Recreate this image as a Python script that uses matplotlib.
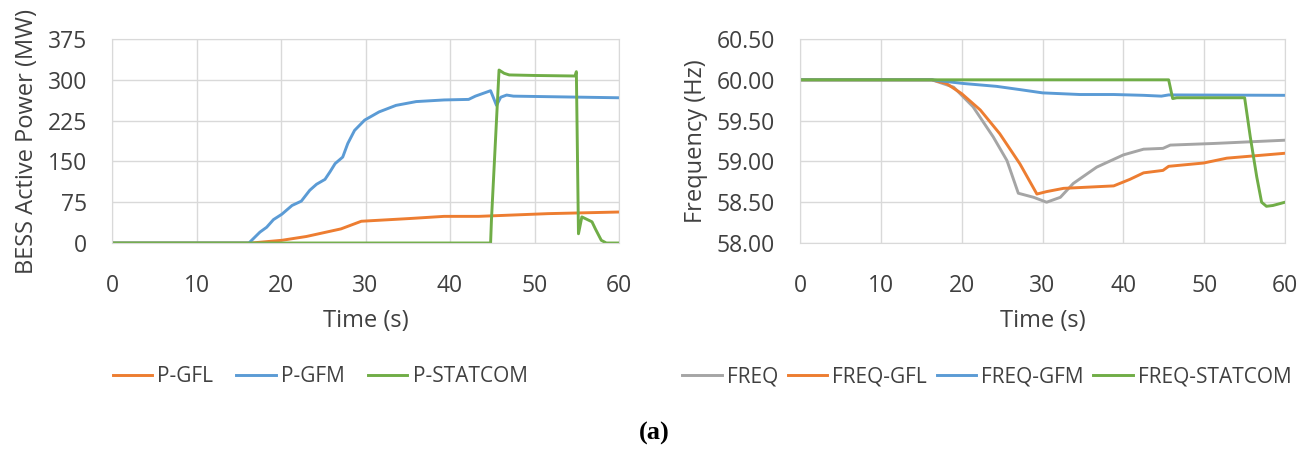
import numpy as np
import matplotlib
matplotlib.use("Agg")
import matplotlib.pyplot as plt

plt.rcParams['font.family'] = ['Open Sans', 'DejaVu Sans']

# BESS active power (MW) vs time (s)
t_gfl = [0, 16.5, 20.1, 23.0, 27.1, 29.5, 35.2, 39.3, 43.4, 51.6, 60]
p_gfl = [0, 0, 5, 12, 26, 40, 45, 49, 49, 54, 57]

t_gfm = [0, 16.2, 17.5, 18.3, 19.1, 20.1, 21.3, 22.4, 23.4, 24.2, 25.2,
         25.8, 26.4, 27.3, 27.9, 28.7, 29.9, 31.6, 33.6, 36.0, 39.3, 42.2,
         43.0, 44.8, 45.5, 46.0, 46.7, 47.5, 60]
p_gfm = [0, 0, 20, 29, 43, 53, 69, 77, 97, 108, 117,
         131, 146, 158, 183, 207, 226, 241, 253, 260, 263, 264,
         270, 280, 253, 268, 272, 270, 267]

t_stat = [0, 44.8, 44.9, 45.8, 46.4, 47.0, 50.0, 54.8, 54.95, 55.2, 55.6,
          56.4, 56.8, 57.2, 57.9, 58.5, 60]
p_stat = [0, 0, 42, 318, 312, 309, 308, 307, 315, 17, 48,
          42, 39, 26, 5, 0, 0]

# System frequency (Hz) vs time (s)
t_freq = [0, 16.3, 19.0, 21.4, 23.9, 25.6, 27.0, 28.9, 30.5, 32.2, 33.8,
          36.7, 40.0, 42.5, 44.9, 45.8, 51.2, 60]
f_freq = [60.0, 60.0, 59.91, 59.67, 59.30, 59.01, 58.61, 58.56, 58.50,
          58.56, 58.73, 58.93, 59.08, 59.15, 59.16, 59.20, 59.22, 59.26]

t_fgfl = [0, 16.3, 18.1, 20.0, 22.3, 24.7, 27.2, 29.3, 30.5, 32.6, 38.8,
          40.8, 42.5, 44.9, 45.6, 49.9, 52.8, 60]
f_fgfl = [60.0, 60.0, 59.955, 59.83, 59.63, 59.34, 58.97, 58.60, 58.63,
          58.67, 58.70, 58.78, 58.86, 58.89, 58.94, 58.98, 59.04, 59.10]

t_fgfm = [0, 16.3, 20.2, 24.3, 27.2, 30.0, 34.6, 38.8, 42.5, 44.7, 45.6, 60]
f_fgfm = [60.0, 60.0, 59.955, 59.92, 59.88, 59.84, 59.82, 59.82, 59.81,
          59.80, 59.815, 59.81]

t_fstat = [0, 45.6, 46.1, 46.6, 55.0, 55.7, 56.5, 57.1, 57.7, 58.5, 60]
f_fstat = [60.0, 60.0, 59.77, 59.78, 59.78, 59.30, 58.81, 58.50, 58.45,
           58.46, 58.50]

ORANGE = '#ED7D31'
BLUE = '#5B9BD5'
GREEN = '#70AD47'
GRAY = '#A5A5A5'
GRID = '#D9D9D9'
TEXT = '#404040'
LW = 2.1


def style_axes(ax, yticks, ylim, fmt, ylabel):
    ax.set_xlim(0, 60)
    ax.set_xticks(np.arange(0, 61, 10))
    ax.set_ylim(*ylim)
    ax.set_yticks(yticks)
    ax.set_yticklabels([fmt.format(v) for v in yticks])
    ax.grid(True, color=GRID, linewidth=1.0)
    ax.set_axisbelow(True)
    for s in ax.spines.values():
        s.set_color(GRID)
    ax.tick_params(axis='y', length=0, labelsize=16.5, colors=TEXT, pad=18)
    ax.tick_params(axis='x', length=0, labelsize=16.5, colors=TEXT, pad=22)
    ax.set_xlabel("Time (s)", fontsize=17, color=TEXT, labelpad=8)
    ax.set_ylabel(ylabel, fontsize=17, color=TEXT, labelpad=6)


fig = plt.figure(figsize=(13.09, 4.58), dpi=100)
ax1 = fig.add_axes([0.0856, 0.4694, 0.3873, 0.4454])
ax2 = fig.add_axes([0.6112, 0.4694, 0.3705, 0.4454])

ax1.plot(t_gfl, p_gfl, color=ORANGE, lw=LW, label='P-GFL')
ax1.plot(t_gfm, p_gfm, color=BLUE, lw=LW, label='P-GFM')
ax1.plot(t_stat, p_stat, color=GREEN, lw=LW, label='P-STATCOM')
style_axes(ax1, np.arange(0, 376, 75), (0, 375), "{:.0f}",
           "BESS Active Power (MW)")

ax2.plot(t_freq, f_freq, color=GRAY, lw=LW, label='FREQ')
ax2.plot(t_fgfl, f_fgfl, color=ORANGE, lw=LW, label='FREQ-GFL')
ax2.plot(t_fgfm, f_fgfm, color=BLUE, lw=LW, label='FREQ-GFM')
ax2.plot(t_fstat, f_fstat, color=GREEN, lw=LW, label='FREQ-STATCOM')
style_axes(ax2, np.arange(58.0, 60.51, 0.5), (58.0, 60.5), "{:.2f}",
           "Frequency (Hz)")

leg_kw = dict(loc='center', frameon=False, fontsize=15, handlelength=1.9,
              handletextpad=0.25, columnspacing=1.1, labelcolor=TEXT)
for h in ax1.get_lines() + ax2.get_lines():
    pass
fig.legend(*ax1.get_legend_handles_labels(), ncol=3,
           bbox_to_anchor=(320 / 1309, 1 - 377 / 458), **leg_kw)
leg_kw['columnspacing'] = 0.45
fig.legend(*ax2.get_legend_handles_labels(), ncol=4,
           bbox_to_anchor=(987 / 1309, 1 - 377 / 458), **leg_kw)

fig.text(654 / 1309, 1 - 433 / 458, "(a)", ha='center', va='center',
         fontsize=19, fontweight='bold', family=['Liberation Serif'])

fig.savefig("out.png", dpi=100)
